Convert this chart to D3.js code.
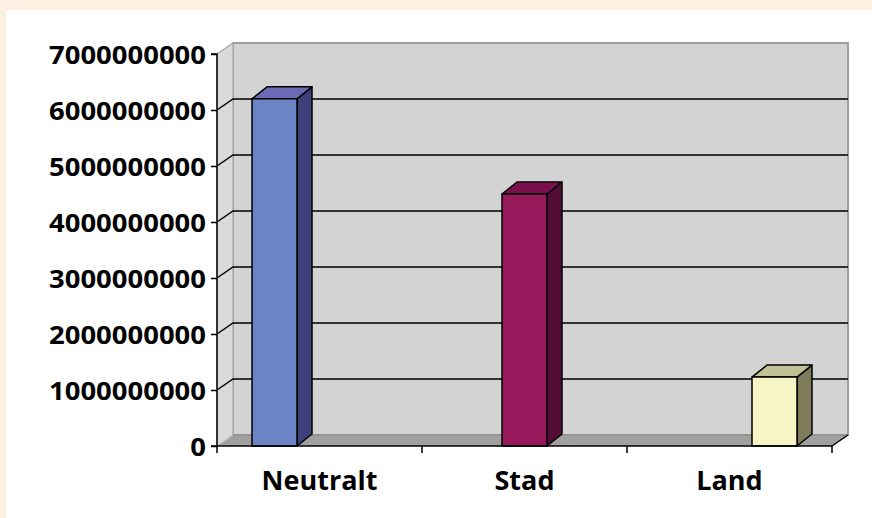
<!DOCTYPE html>
<html><head><meta charset="utf-8">
<script src="https://cdn.jsdelivr.net/npm/d3@7/dist/d3.min.js"></script>
<style>
html,body{margin:0;padding:0;background:#FDF0E3;}
svg{display:block;}
</style></head>
<body>
<script>
const categories = ["Neutralt", "Stad", "Land"];
const values = [6.2e9, 4.5e9, 1.23e9];
const yTicks = [0, 1e9, 2e9, 3e9, 4e9, 5e9, 6e9, 7e9];
const frontColors = ["#6B84C4", "#95195B", "#F7F5C5"];
const topColors = ["#6B6BB5", "#7B0F4D", "#C3C196"];
const sideColors = ["#3F3F7C", "#520D36", "#7D7B59"];

(function () {
const W = 872, H = 518;
const svg = d3.select("body").append("svg").attr("width", W).attr("height", H);
svg.append("rect").attr("x", 0).attr("y", 0).attr("width", W).attr("height", H).attr("fill", "#FDF0E3");
svg.append("rect").attr("x", 6).attr("y", 10).attr("width", W - 6).attr("height", H - 10).attr("fill", "#FFFFFF");

const pLeft = 217, pRight = 832, pBottom = 446, pTop = 54;
const wdx = 16, wdy = -11;   // wall depth
const bdx = 15, bdy = -12;   // bar depth

const y = d3.scaleLinear().domain([0, 7e9]).range([pBottom, pTop]);
const x = d3.scaleBand().domain(categories).range([pLeft, pRight]).padding(0);
const inner = d3.scaleBand().domain(d3.range(categories.length)).range([0, x.bandwidth()]).paddingInner(0).paddingOuter(0.778);

const line = d3.line();

// back wall
svg.append("path")
  .attr("d", line([[pLeft + wdx, y(7e9) + wdy], [pRight + wdx, y(7e9) + wdy], [pRight + wdx, y(0) + wdy], [pLeft + wdx, y(0) + wdy]]) + "Z")
  .attr("fill", "#D4D3D3").attr("stroke", "#9E9E9E").attr("stroke-width", 2);
// left wall
svg.append("path")
  .attr("d", line([[pLeft, y(7e9)], [pLeft + wdx, y(7e9) + wdy], [pLeft + wdx, y(0) + wdy], [pLeft, y(0)]]) + "Z")
  .attr("fill", "#DADADA").attr("stroke", "#A8A8A8").attr("stroke-width", 1.2);

// gridlines
yTicks.filter(v => v > 0 && v < 7e9).forEach(v => {
  svg.append("path")
    .attr("d", line([[pLeft, y(v)], [pLeft + wdx, y(v) + wdy], [pRight + wdx, y(v) + wdy]]))
    .attr("fill", "none").attr("stroke", "#000").attr("stroke-width", 1.5);
});

// floor
svg.append("path")
  .attr("d", line([[pLeft, y(0)], [pLeft + wdx, y(0) + wdy], [pRight + wdx, y(0) + wdy], [pRight, y(0)]]) + "Z")
  .attr("fill", "#A29F9F").attr("stroke", "none");
svg.append("path")
  .attr("d", line([[pLeft + wdx, y(0) + wdy], [pRight + wdx, y(0) + wdy]]))
  .attr("stroke", "#8A8888").attr("stroke-width", 1.2);
svg.append("path")
  .attr("d", line([[pRight, y(0)], [pRight + wdx, y(0) + wdy]]))
  .attr("stroke", "#000").attr("stroke-width", 1.5);
svg.append("path")
  .attr("d", line([[pLeft, y(0)], [pLeft + wdx, y(0) + wdy]]))
  .attr("stroke", "#C8C8C8").attr("stroke-width", 1);

// bars
categories.forEach((c, i) => {
  const x0 = x(c) + inner(i), x1 = x0 + inner.bandwidth();
  const yt = y(values[i]), yb = y(0);
  const g = svg.append("g").attr("stroke", "#000").attr("stroke-width", 1.5).attr("stroke-linejoin", "round");
  g.append("path").attr("d", line([[x1, yb], [x1 + bdx, yb + bdy], [x1 + bdx, yt + bdy], [x1, yt]]) + "Z").attr("fill", sideColors[i]);
  g.append("path").attr("d", line([[x0, yt], [x0 + bdx, yt + bdy], [x1 + bdx, yt + bdy], [x1, yt]]) + "Z").attr("fill", topColors[i]);
  g.append("rect").attr("x", x0).attr("y", yt).attr("width", x1 - x0).attr("height", yb - yt).attr("fill", frontColors[i]);
});

// axes
const fmt = d3.format("d");
const yAxis = d3.axisLeft(y).tickValues(yTicks).tickSize(6).tickFormat(fmt);
const gy = svg.append("g").attr("transform", `translate(${pLeft},0)`).call(yAxis);
gy.select(".domain").attr("stroke", "#000").attr("stroke-width", 1.5).attr("d", `M-6,${pTop}H0V${pBottom}H-6`);
gy.selectAll(".tick line").attr("stroke", "#000").attr("stroke-width", 1.5);
gy.selectAll(".tick text").attr("x", -11).attr("dy", "0.36em")
  .attr("font-family", "'Open Sans', sans-serif").attr("font-weight", 700).attr("font-size", 25)
  .attr("fill", "#000").attr("textLength", d => 15.7 * fmt(d).length).attr("lengthAdjust", "spacingAndGlyphs");

const xAxis = d3.axisBottom(x).tickSize(0);
const gx = svg.append("g").attr("transform", `translate(0,${pBottom})`).call(xAxis);
gx.select(".domain").attr("stroke", "#000").attr("stroke-width", 1.5).attr("d", `M${pLeft},0H${pRight}`);
gx.selectAll(".tick text").attr("y", 44).attr("dy", 0)
  .attr("font-family", "'Open Sans', sans-serif").attr("font-weight", 700).attr("font-size", 27).attr("fill", "#000");
const bounds = categories.map(c => x(c)).concat([pRight]);
gx.selectAll(".bound").data(bounds).enter().append("line")
  .attr("x1", d => d).attr("x2", d => d).attr("y1", 0).attr("y2", 7)
  .attr("stroke", "#000").attr("stroke-width", 1.5);
})();
</script>
</body></html>
